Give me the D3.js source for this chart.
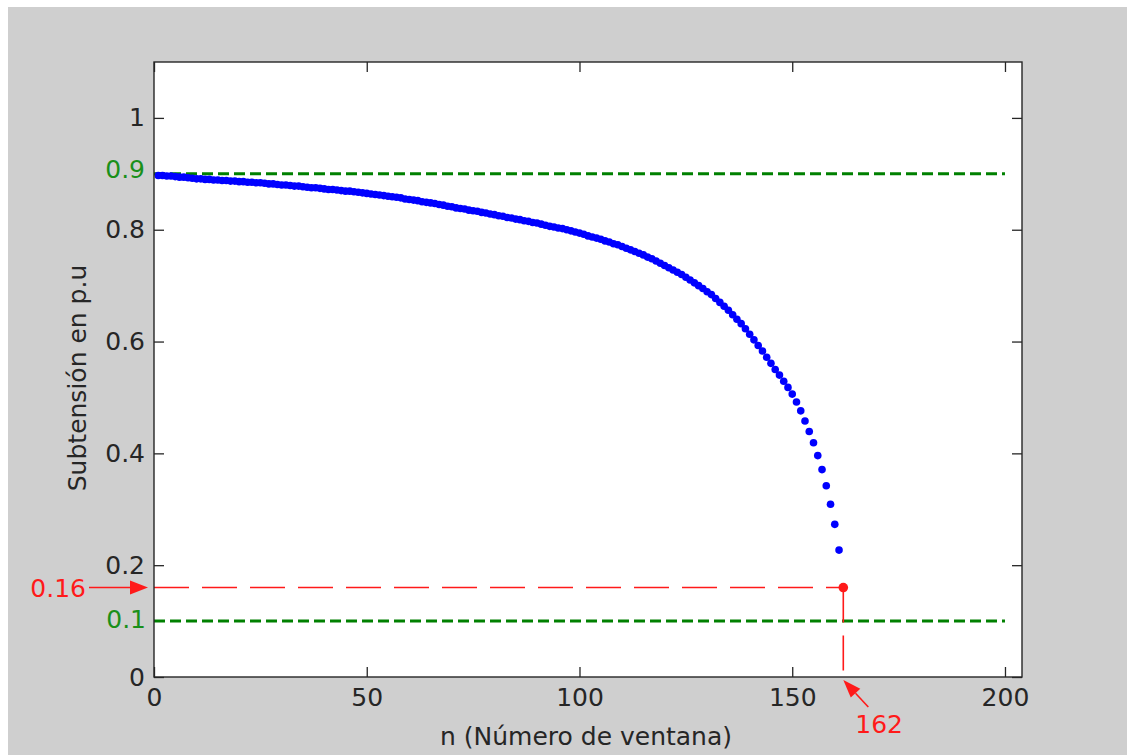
<!DOCTYPE html>
<html>
<head>
<meta charset="utf-8">
<script src="https://cdn.jsdelivr.net/npm/d3@7/dist/d3.min.js"></script>
<style>
  html, body { margin: 0; padding: 0; background: #ffffff; }
  svg { display: block; }
  text { font-family: "DejaVu Sans", sans-serif; }
</style>
</head>
<body>
<svg id="chart" width="1128" height="755"></svg>
<script>
// Voltage (p.u.) for each window n = 1 .. 161
const voltage = [
  0.897,0.897,0.896,0.896,0.895,0.894,0.894,0.893,0.892,0.891,
  0.891,0.890,0.890,0.889,0.889,0.888,0.888,0.887,0.887,0.886,
  0.886,0.885,0.885,0.884,0.884,0.883,0.882,0.882,0.881,0.880,
  0.880,0.879,0.878,0.878,0.877,0.876,0.875,0.875,0.874,0.873,
  0.872,0.872,0.871,0.870,0.869,0.869,0.868,0.867,0.866,0.865,
  0.864,0.863,0.862,0.861,0.860,0.859,0.858,0.857,0.855,0.854,
  0.853,0.852,0.850,0.849,0.848,0.847,0.845,0.844,0.842,0.841,
  0.839,0.838,0.837,0.835,0.834,0.833,0.831,0.830,0.828,0.827,
  0.825,0.824,0.822,0.821,0.819,0.818,0.816,0.815,0.813,0.812,
  0.810,0.808,0.806,0.805,0.803,0.802,0.800,0.798,0.796,0.794,
  0.792,0.789,0.787,0.785,0.783,0.780,0.778,0.775,0.773,0.770,
  0.767,0.764,0.761,0.758,0.755,0.751,0.748,0.744,0.740,0.736,
  0.732,0.728,0.724,0.720,0.715,0.710,0.705,0.700,0.695,0.689,
  0.684,0.677,0.670,0.663,0.656,0.648,0.640,0.632,0.623,0.613,
  0.603,0.593,0.583,0.572,0.561,0.550,0.540,0.529,0.518,0.506,
  0.492,0.476,0.458,0.439,0.419,0.396,0.371,0.342,0.309,0.273,
  0.227
];
const firstWindow = 1;

// Limits (p.u.) drawn as dashed guides, and their labels
const limitValues = [0.9, 0.1];
const limitLabels = ["0.9", "0.1"];
const limitSpan = [0, 200];

// Point where the voltage crosses the critical value
const criticalN = 162;
const criticalV = 0.16;
const criticalLabels = ["0.16", "162"];

// Axis ticks
const xTicks = [0, 50, 100, 150, 200];
const yTicks = [0, 0.2, 0.4, 0.6, 0.8, 1];
const xDomain = [0, 204];
const yDomain = [0, 1.1];

const xTitle = "n (Número de ventana)";
const yTitle = "Subtensión en p.u";

const svg = d3.select("#chart");
const W = 1128, H = 755;
const plot = { left: 154, top: 62, right: 1022, bottom: 677 };

// Figure background
svg.append("rect").attr("x", 8).attr("y", 7).attr("width", 1119).attr("height", H - 7)
  .attr("fill", "#cfcfcf");
svg.append("rect").attr("x", plot.left).attr("y", plot.top)
  .attr("width", plot.right - plot.left).attr("height", plot.bottom - plot.top)
  .attr("fill", "#ffffff");

const x = d3.scaleLinear().domain(xDomain).range([plot.left, plot.right]);
const y = d3.scaleLinear().domain(yDomain).range([plot.bottom, plot.top]);

const FONT = 25;
const axisColor = "#262626";

function styleAxis(g, showLabels) {
  g.select(".domain").remove();
  g.selectAll(".tick line").attr("stroke", axisColor).attr("stroke-width", 1.3);
  g.selectAll(".tick text").attr("fill", axisColor).style("font-size", FONT + "px")
    .style("font-family", '"DejaVu Sans", sans-serif');
  if (!showLabels) g.selectAll(".tick text").remove();
}

svg.append("g").attr("transform", `translate(0,${plot.bottom})`)
  .call(d3.axisBottom(x).tickValues(xTicks).tickSize(-10).tickPadding(11).tickFormat(d3.format("d")))
  .call(g => styleAxis(g, true));
svg.append("g").attr("transform", `translate(0,${plot.top})`)
  .call(d3.axisTop(x).tickValues(xTicks).tickSize(-10))
  .call(g => styleAxis(g, false));
svg.append("g").attr("transform", `translate(${plot.left},0)`)
  .call(d3.axisLeft(y).tickValues(yTicks).tickSize(-10).tickPadding(9).tickFormat(d => String(d)))
  .call(g => styleAxis(g, true));
svg.append("g").attr("transform", `translate(${plot.right},0)`)
  .call(d3.axisRight(y).tickValues(yTicks).tickSize(-10))
  .call(g => styleAxis(g, false));

// Dashed limit lines
const green = "#008000";
svg.append("g").selectAll("line").data(limitValues).join("line")
  .attr("x1", x(limitSpan[0])).attr("x2", x(limitSpan[1]))
  .attr("y1", d => y(d)).attr("y2", d => y(d))
  .attr("stroke", green).attr("stroke-width", 3)
  .attr("stroke-dasharray", "11,5");

// Voltage samples
svg.append("g").selectAll("circle").data(voltage).join("circle")
  .attr("cx", (d, i) => x(firstWindow + i))
  .attr("cy", d => y(d))
  .attr("r", 3.8)
  .attr("fill", "#0000ff");

// Critical point guides
const red = "#ff1a1a";
svg.append("line")
  .attr("x1", x(0)).attr("x2", x(criticalN))
  .attr("y1", y(criticalV)).attr("y2", y(criticalV))
  .attr("stroke", red).attr("stroke-width", 1.6).attr("stroke-dasharray", "35,13");
svg.append("line")
  .attr("x1", x(criticalN)).attr("x2", x(criticalN))
  .attr("y1", y(criticalV)).attr("y2", y(0))
  .attr("stroke", red).attr("stroke-width", 1.6).attr("stroke-dasharray", "35,13");
svg.append("circle").attr("cx", x(criticalN)).attr("cy", y(criticalV)).attr("r", 4.8)
  .attr("fill", red);

// Box
svg.append("rect").attr("x", plot.left).attr("y", plot.top)
  .attr("width", plot.right - plot.left).attr("height", plot.bottom - plot.top)
  .attr("fill", "none").attr("stroke", axisColor).attr("stroke-width", 1.4);

// Limit labels on the left
svg.append("g").selectAll("text").data(limitValues).join("text")
  .attr("x", (d, i) => i === 0 ? 145 : 146)
  .attr("y", (d, i) => y(d) + (i === 0 ? -5 : -2))
  .attr("dy", "0.35em")
  .attr("text-anchor", "end")
  .attr("fill", "#1a901a")
  .style("font-size", FONT + "px")
  .text((d, i) => limitLabels[i]);

// Arrow helper: filled head at (x2, y2)
function arrow(x1, y1, x2, y2, headLen, headHalf) {
  const ang = Math.atan2(y2 - y1, x2 - x1);
  const bx = x2 - headLen * Math.cos(ang), by = y2 - headLen * Math.sin(ang);
  svg.append("line").attr("x1", x1).attr("y1", y1).attr("x2", bx).attr("y2", by)
    .attr("stroke", red).attr("stroke-width", 1.6);
  const px = -Math.sin(ang) * headHalf, py = Math.cos(ang) * headHalf;
  svg.append("path")
    .attr("d", `M${x2},${y2}L${bx + px},${by + py}L${bx - px},${by - py}Z`)
    .attr("fill", red);
}

// "0.16" annotation
svg.append("text").attr("x", 86).attr("y", y(criticalV)).attr("dy", "0.36em")
  .attr("text-anchor", "end").attr("fill", red).style("font-size", FONT + "px")
  .text(criticalLabels[0]);
arrow(89, y(criticalV), x(0) - 6, y(criticalV), 18, 7);

// "162" annotation
svg.append("text").attr("x", x(criticalN) + 12).attr("y", y(0) + 56)
  .attr("fill", red).style("font-size", FONT + "px")
  .text(criticalLabels[1]);
arrow(x(criticalN) + 25, y(0) + 30, x(criticalN), y(0) + 3, 18, 6.5);

// Axis titles
svg.append("text").attr("x", (plot.left + plot.right) / 2 - 2).attr("y", 745)
  .attr("text-anchor", "middle").attr("fill", axisColor).style("font-size", FONT + "px")
  .text(xTitle);
svg.append("text").attr("transform", "translate(86,378) rotate(-90)")
  .attr("text-anchor", "middle").attr("fill", axisColor).style("font-size", FONT + "px")
  .text(yTitle);
</script>
</body>
</html>
